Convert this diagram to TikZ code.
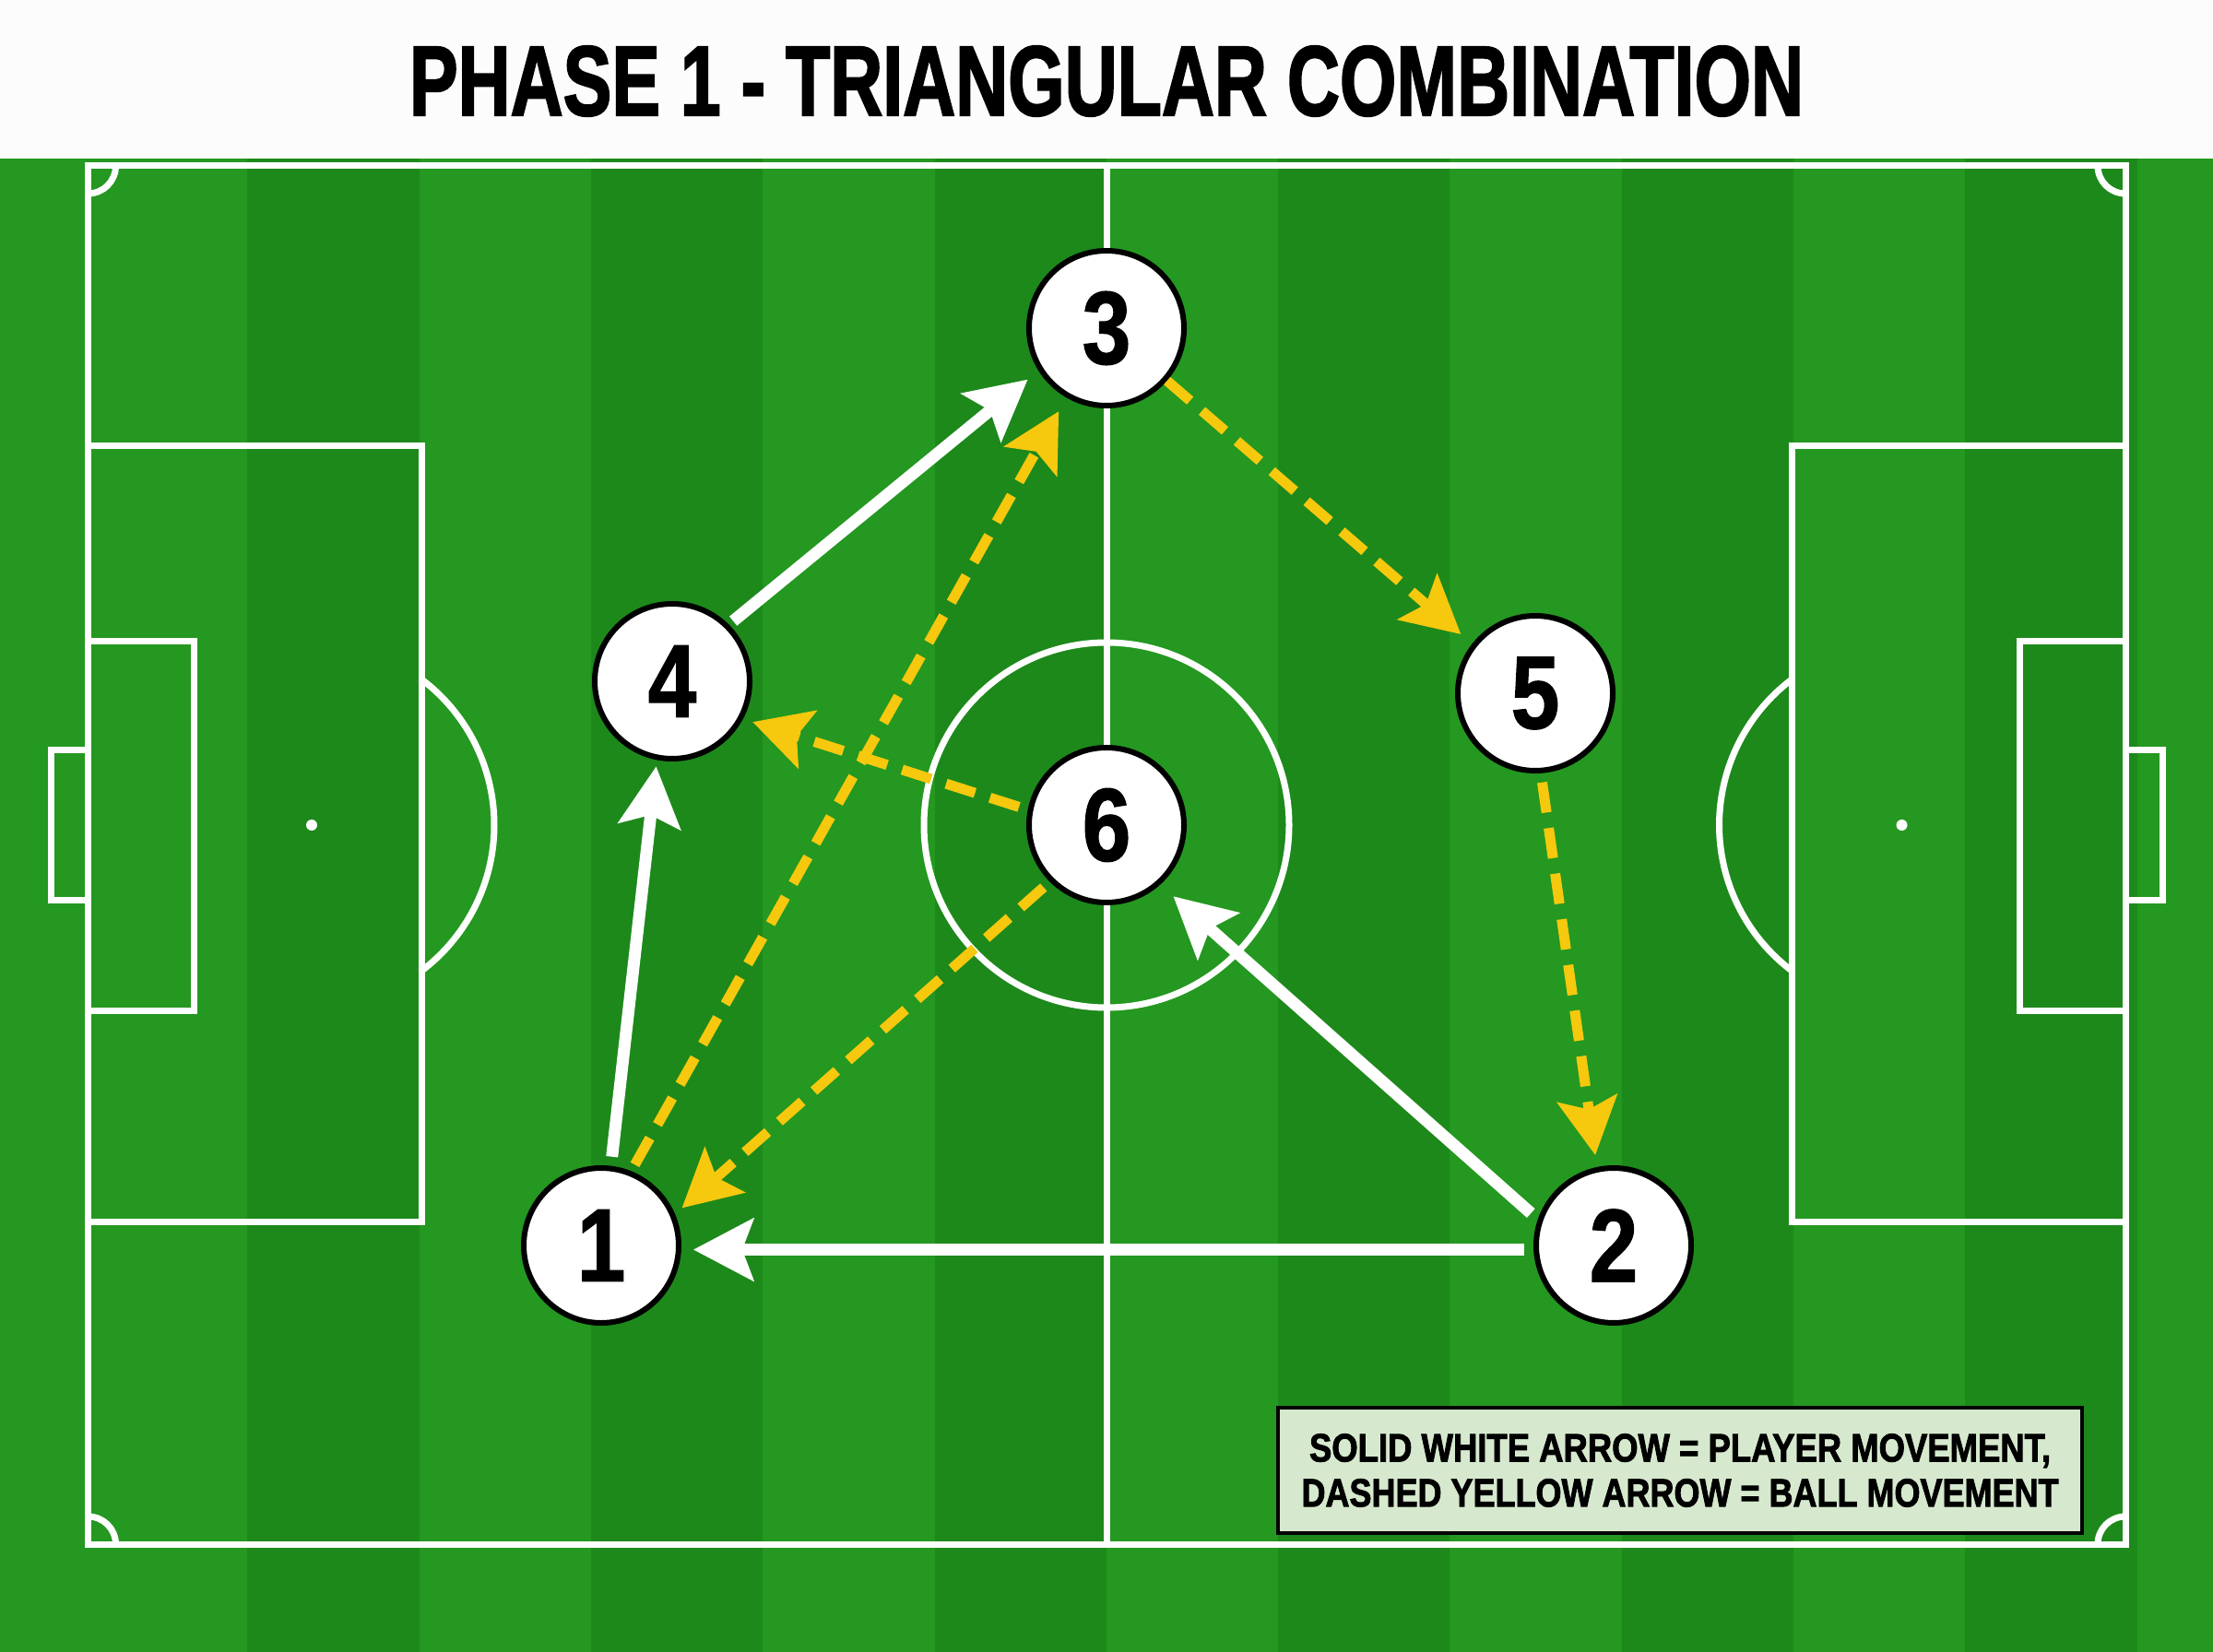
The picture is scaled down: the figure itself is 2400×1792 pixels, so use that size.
\documentclass[tikz,border=0pt]{standalone}
\usepackage{fontspec}
\setmainfont{Liberation Sans}
\newfontfamily\heavyfont{Liberation Sans}[BoldFeatures={FakeBold=2.2}]
\newfontfamily\numfont{Liberation Sans}[FakeStretch=0.84, BoldFeatures={FakeBold=1.2}]
\usetikzlibrary{arrows.meta}
\definecolor{grassA}{RGB}{36,152,32}
\definecolor{grassB}{RGB}{29,137,27}
\definecolor{ballY}{RGB}{246,200,14}
\definecolor{legendbg}{RGB}{214,233,206}
\definecolor{headbg}{RGB}{252,252,252}
\begin{document}
\begin{tikzpicture}[x=0.1mm,y=-0.1mm,
  pline/.style={white, line width=0.7mm},
  player/.style={circle, draw=black, fill=white, line width=0.6mm, minimum size=16.8mm, inner sep=0pt,
    font={\numfont\fontsize{32}{32}\selectfont\bfseries}},
  run/.style={white, line width=1.3mm, -{Stealth[length=6.5mm,width=6.7mm,inset=1.2mm]}},
  pass/.style={ballY, line width=1.1mm, dash pattern=on 3.3mm off 1.7mm, -{Stealth[length=6.2mm,width=6.5mm,inset=1.2mm]}}
]
\useasboundingbox (0,0) rectangle (2400,1792);
% background
\fill[grassA] (0,172) rectangle (2400,1792);
\foreach \k in {1,3,5,7,9,11} {
  \fill[grassB] ({82+186.3*\k},172) rectangle ({82+186.3*(\k+1)},1792);
}
\fill[headbg] (0,0) rectangle (2400,172);
\node (title) at (1200,88) {\resizebox{151.2mm}{7.5mm}{\heavyfont\bfseries PHASE 1 - TRIANGULAR COMBINATION}};
% pitch
\draw[pline] (95.5,180) rectangle (2305,1675);
\draw[pline] (1200,180) -- (1200,1675);
\draw[pline] (1200,895) circle[radius=198];
\draw[pline] (95.5,484) rectangle (457,1325);
\draw[pline] (95.5,696) rectangle (210,1096);
\draw[pline] (55.5,814) rectangle (95.5,976);
\fill[white] (338,895) circle[radius=6];
\draw[pline] (338,895) ++(-53.5:198) arc[start angle=-53.5, end angle=53.5, radius=198];
\draw[pline] (1943.5,484) rectangle (2305,1325);
\draw[pline] (2190.5,696) rectangle (2305,1096);
\draw[pline] (2305,814) rectangle (2345,976);
\fill[white] (2062.5,895) circle[radius=6];
\draw[pline] (2062.5,895) ++(126.5:198) arc[start angle=126.5, end angle=233.5, radius=198];
\draw[pline] (125.5,180) arc[start angle=0, end angle=90, radius=30];
\draw[pline] (2305,210) arc[start angle=90, end angle=180, radius=30];
\draw[pline] (95.5,1645) arc[start angle=270, end angle=360, radius=30];
\draw[pline] (2275,1675) arc[start angle=180, end angle=270, radius=30];
% players
\node[player] (n3) at (1200,356) {3};
\node[player] (n4) at (729,739) {4};
\node[player] (n5) at (1665,752) {5};
\node[player] (n6) at (1200,895) {6};
\node[player] (n1) at (652,1351) {1};
\node[player] (n2) at (1750,1351) {2};
% player movement
\draw[run, shorten <=0.6mm, shorten >=1.5mm] (n4.45) -- (n3.212);
\draw[run, shorten <=1mm, shorten >=0.7mm] (n1.83.5) -- (n4.259.5);
\draw[run, shorten <=1mm, shorten >=1.3mm] (n2.183) -- (n1.357);
\draw[run, shorten <=1mm, shorten >=1.9mm] (n2.161.4) -- (n6.312.7);
% ball movement
\draw[pass, shorten <=0.8mm, shorten >=1.7mm] (n1.68.3) -- (n3.240.7);
\draw[pass, shorten <=1mm, shorten >=1.1mm] (n6.169.3) -- (n4.332.1);
\draw[pass, shorten <=0.9mm, shorten >=1mm] (n6.225.8) -- (n1.23.1);
\draw[pass, shorten >=1.6mm] (n3.319.8) -- (n5.142.1);
\draw[pass, shorten <=1mm, shorten >=1.3mm] (n5.274.7) -- (n2.102.7);
% legend
\node[draw=black, line width=0.35mm, fill=legendbg, minimum width=87.2mm, minimum height=13.6mm,
  inner sep=0pt, align=center, font=\fontsize{10}{13.9}\selectfont] (legend) at (1822,1595)
  {\resizebox{80.4mm}{3mm}{\heavyfont\bfseries SOLID WHITE ARROW = PLAYER MOVEMENT,}\\
   \resizebox{82.1mm}{3mm}{\heavyfont\bfseries DASHED YELLOW ARROW = BALL MOVEMENT}};
\end{tikzpicture}
\end{document}
